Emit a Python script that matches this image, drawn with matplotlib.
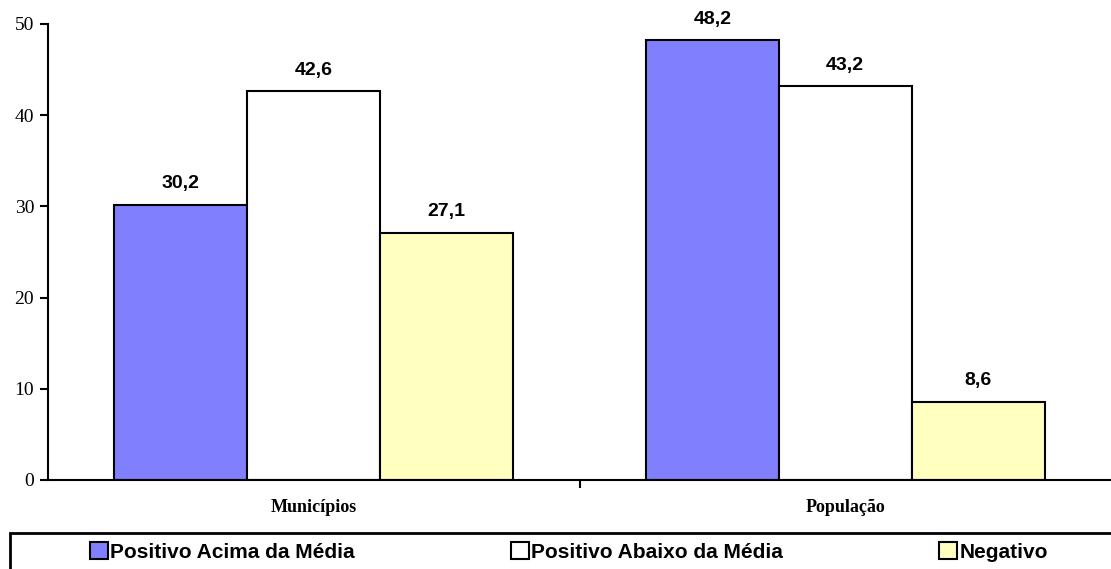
import numpy as np
import matplotlib.pyplot as plt
from matplotlib.patches import Rectangle

categories = ["Municípios", "População"]
series_names = ["Positivo Acima da Média", "Positivo Abaixo da Média", "Negativo"]
acima = [30.2, 48.2]
abaixo = [42.6, 43.2]
negativo = [27.1, 8.6]
colors = ["#8080FF", "#FFFFFF", "#FFFFC0"]


def fmt(v):
    return f"{v:.1f}".replace(".", ",")


def main():
    fig = plt.figure(figsize=(11.11, 5.69), dpi=100, facecolor="white")
    ax = fig.add_axes([48 / 1111, 1 - 480 / 569, 1 - 48 / 1111, (480 - 24) / 569])

    x = np.arange(len(categories))
    width = 0.25
    for i, (vals, col) in enumerate(zip([acima, abaixo, negativo], colors)):
        bars = ax.bar(x + (i - 1) * width, vals, width, color=col,
                      edgecolor="black", linewidth=1.5, label=series_names[i])
        for b, v in zip(bars, vals):
            ax.annotate(fmt(v), (b.get_x() + b.get_width() / 2, v),
                        xytext=(0, 9), textcoords="offset points",
                        ha="center", va="bottom", fontsize=14, fontweight="bold",
                        family="Liberation Sans")

    ax.set_xlim(-0.5, 1.5)
    ax.set_ylim(0, 50)
    ax.set_yticks([0, 10, 20, 30, 40, 50])
    ax.tick_params(axis="y", direction="out", length=6, width=1.5, labelsize=14, pad=4)
    for lab in ax.get_yticklabels():
        lab.set_family("Liberation Serif")

    ax.set_xticks([0.5])
    ax.set_xticklabels([""])
    ax.tick_params(axis="x", direction="out", length=6, width=1.5)
    ax.set_xticks(x, minor=True)
    ax.set_xticklabels(categories, minor=True, fontsize=13, fontweight="bold",
                       family="Liberation Serif")
    ax.tick_params(axis="x", which="minor", length=0, pad=14)

    ax.spines[["top", "right"]].set_visible(False)
    ax.spines[["left", "bottom"]].set_linewidth(1.5)

    # legend frame runs off the bottom/right of the picture
    fig.patches.append(Rectangle((10 / 1111, -0.1), 1.1, 0.1 + (569 - 533) / 569,
                                 transform=fig.transFigure, facecolor="white",
                                 edgecolor="black", linewidth=2, zorder=0))
    leg_handles = [Rectangle((0, 0), 1, 1, facecolor=c, edgecolor="black", linewidth=1.5)
                   for c in colors]
    fig.legend(leg_handles, series_names, loc="center",
               bbox_to_anchor=(569 / 1111, 1 - 552 / 569), ncol=3, frameon=False,
               prop={"family": "Liberation Sans", "weight": "bold", "size": 15},
               handlelength=0.85, handleheight=0.85, handletextpad=0.12,
               columnspacing=7.5, borderpad=0)

    fig.savefig("out.png", dpi=100, facecolor="white")
    plt.close(fig)


if __name__ == "__main__":
    main()
